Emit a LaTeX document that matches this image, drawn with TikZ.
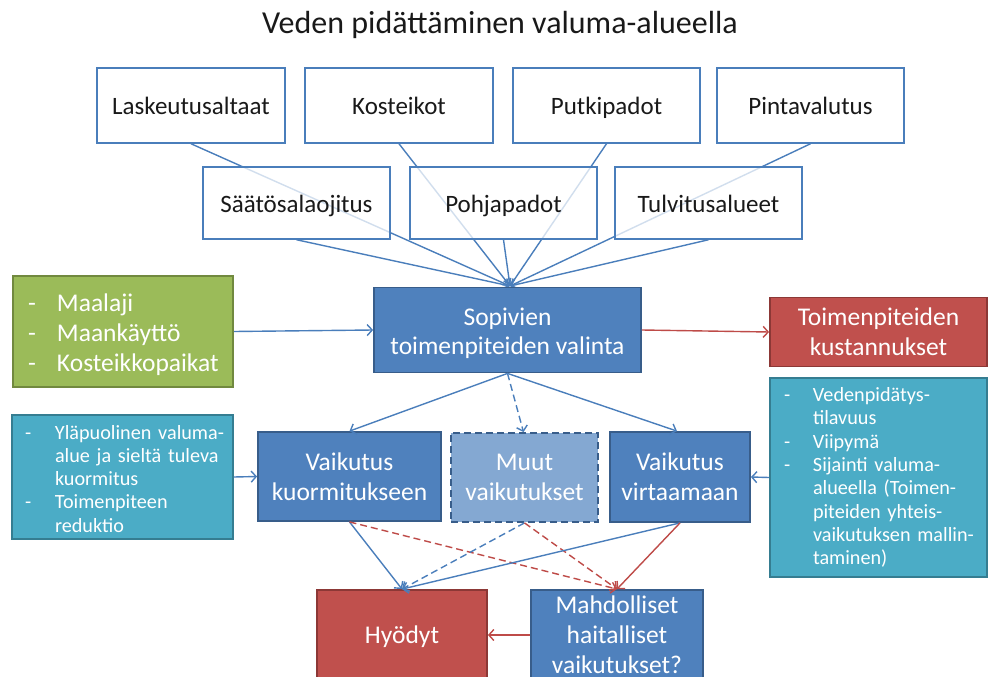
\documentclass[tikz,border=0pt]{standalone}
\usepackage{fontspec}
\setmainfont{Carlito}
\usetikzlibrary{arrows.meta}
\definecolor{bfill}{HTML}{4F81BD}
\definecolor{bline}{HTML}{385D8A}
\definecolor{conn}{HTML}{4A7EBB}
\definecolor{gfill}{HTML}{9BBB59}
\definecolor{gline}{HTML}{71893F}
\definecolor{rfill}{HTML}{C0504D}
\definecolor{rline}{HTML}{8C3836}
\definecolor{rconn}{HTML}{BE4B48}
\definecolor{tfill}{HTML}{4BACC6}
\definecolor{tline}{HTML}{357D91}
\definecolor{lfill}{RGB}{132,168,210}
\newcommand\lowerby[2]{\raisebox{-#1}[\height][\depth]{#2}}
\tikzset{
  topbox/.style={draw=conn, line width=1.5pt, fill=white, minimum width=187pt, minimum height=75pt, text=black!90, font=\fontsize{25}{30}\selectfont, inner sep=0pt, text height=22pt, text depth=4pt},
  midbox/.style={topbox, fill opacity=0.75, text opacity=1},
  bigtext/.style={font=\fontsize{25.5}{30}\selectfont},
  bluebox/.style={draw=bline, line width=1.8pt, fill=bfill, text=white, align=center, inner sep=0pt, bigtext},
  redbox/.style={draw=rline, line width=1.8pt, fill=rfill, text=white, align=center, inner sep=0pt, bigtext},
  greenbox/.style={draw=gline, line width=1.8pt, fill=gfill, text=white, inner ysep=0pt, align=left},
  tealbox/.style={draw=tline, line width=1.8pt, fill=tfill, text=white, inner ysep=0pt, align=left, font=\fontsize{20.2}{23.3}\selectfont},
  lightbox/.style={draw=bline, line width=1.8pt, dashed, dash pattern=on 7pt off 4pt, fill=lfill, text=white, align=center, inner sep=0pt, bigtext},
  arr/.style={line width=1.4pt, -{Straight Barb[length=5pt,width=11pt]}},
  barr/.style={arr, draw=conn},
  rarr/.style={arr, draw=rconn},
  dsh/.style={dash pattern=on 7pt off 4pt},
}
\begin{document}
\begin{tikzpicture}[x=1pt,y=-1pt]
\clip (0,0) rectangle (988,677);
\useasboundingbox (0,0) rectangle (988,677);

\node[font=\fontsize{32}{38}\selectfont, text=black!90] (title) at (500,25) {Veden pidättäminen valuma-alueella};

% top row
\node[topbox, minimum width=188pt] (lask) at (191,105.5) {Laskeutusaltaat};
\node[topbox, minimum width=188pt] (kost) at (399,105.5) {Kosteikot};
\node[topbox] (putk) at (606.5,105.5) {Putkipadot};
\node[topbox] (pint) at (810.5,105.5) {Pintavalutus};

\coordinate (conv) at (510,286);
\draw[barr] (lask.south) -- (conv);
\draw[barr] (kost.south) -- (conv);
\draw[barr] (putk.south) -- (conv);
\draw[barr] (pint.south) -- (conv);

% second row
\node[midbox, minimum height=72pt] (saat) at (296.5,203) {Säätösalaojitus};
\node[midbox, minimum height=72pt] (pohj) at (503.5,203) {Pohjapadot};
\node[midbox, minimum height=72pt] (tulv) at (708.5,203) {Tulvitusalueet};
\draw[barr] (saat.south) -- (conv);
\draw[barr] (pohj.south) -- (conv);
\draw[barr] (tulv.south) -- (conv);

% middle
\node[bluebox, minimum width=267pt, minimum height=85pt, font=\fontsize{25.5}{29.5}\selectfont] (sop) at (507.5,330)
  {\lowerby{4pt}{\begin{tabular}{@{}c@{}}Sopivien\\toimenpiteiden valinta\end{tabular}}};

\node[greenbox, minimum width=220pt, minimum height=111pt, inner xsep=15pt, text width=190pt, font=\fontsize{25.5}{30}\selectfont] (green) at (123,331.5)
  {\lowerby{4pt}{\begin{tabular}{@{}p{29pt}@{}l@{}}-&Maalaji\\-&Maankäyttö\\-&Kosteikkopaikat\end{tabular}}};

\node[redbox, minimum width=217pt, minimum height=69pt] (kust) at (878.5,332) {Toimenpiteiden\\kustannukset};

\node[tealbox, minimum width=217pt, minimum height=199pt, inner xsep=14pt, text width=189pt] (tright) at (878.5,477.5)
  {\lowerby{1pt}{\begin{tabular}{@{}p{29pt}@{}l@{}}-&Vedenpidätys-\\&tilavuus\\-&Viipymä\\-&Sijainti valuma-\\&alueella (Toimen-\\&piteiden yhteis-\\&vaikutuksen mallin-\\&taminen)\end{tabular}}};

\node[tealbox, minimum width=221pt, minimum height=124pt, inner xsep=13pt, text width=195pt] (tleft) at (122.5,477)
  {\lowerby{4pt}{\begin{tabular}{@{}p{30pt}@{}l@{}}-&Yläpuolinen valuma-\\&alue ja sieltä tuleva\\&kuormitus\\-&Toimenpiteen\\&reduktio\end{tabular}}};

\node[bluebox, minimum width=183pt, minimum height=89pt] (vk) at (349.5,476.5) {Vaikutus\\kuormitukseen};
\node[lightbox, minimum width=147pt, minimum height=89pt] (muut) at (524.5,477.5) {Muut\\vaikutukset};
\node[bluebox, minimum width=140pt, minimum height=90pt] (vv) at (680,477) {Vaikutus\\virtaamaan};

\node[redbox, minimum width=170pt, minimum height=90pt] (hyo) at (402,635) {\lowerby{2pt}{Hyödyt}};
\node[bluebox, minimum width=172pt, minimum height=90pt] (mahd) at (617,635) {Mahdolliset\\haitalliset\\vaikutukset?};

% connectors
\draw[barr] (green.east) -- (sop.west);
\draw[rarr] (sop.east) -- (kust.west);
\draw[barr] (sop.south) -- (vk.north);
\draw[barr, dsh] (sop.south) -- ([xshift=-1pt]muut.north);
\draw[barr] (sop.south) -- ([xshift=-3pt]vv.north);
\draw[barr] (tleft.east) -- (vk.west);
\draw[barr] (tright.west) -- (vv.east);

\draw[barr] (vk.south) -- (hyo.north);
\draw[rarr, dsh] (vk.south) -- (mahd.north);
\draw[barr, dsh] (muut.south) -- (hyo.north);
\draw[rarr, dsh] (muut.south) -- (mahd.north);
\draw[barr] (vv.south) -- (hyo.north);
\draw[rarr] (vv.south) -- (mahd.north);
\draw[rarr] (mahd.west) -- (hyo.east);
\end{tikzpicture}
\end{document}
